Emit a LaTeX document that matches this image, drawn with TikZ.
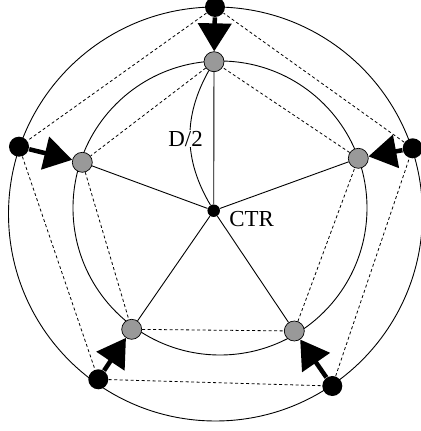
\documentclass[tikz,border=0pt]{standalone}
\usepackage{fontspec}
\setmainfont{Liberation Serif}
\usetikzlibrary{arrows.meta}
\definecolor{dotgrey}{gray}{0.6}

\begin{document}
\begin{tikzpicture}[x=1bp, y=1bp, line width=0.9bp,
	dot/.style={circle, fill=black, inner sep=0pt, minimum size=20bp},
	gdot/.style={circle, draw=black, line width=0.7bp, fill=dotgrey, inner sep=0pt, minimum size=20bp},
	push/.style={line width=4.5bp, -{Triangle[length=28bp,width=33bp]}},
	chord/.style={dash pattern=on 3bp off 2.5bp, line width=0.8bp},
	lbl/.style={font=\fontsize{23}{27}\selectfont, fill=white, inner sep=1bp, anchor=base west}]
\useasboundingbox (0,0) rectangle (421,431);
\draw (215.5,217) circle (207);
\draw (220,223) circle (147);
\node[dot, minimum size=12.5bp] (ctr) at (213.7,220.3) {};
\node[gdot] (g1) at (214,369.3) {};
\node[gdot] (g2) at (82.3,268.7) {};
\node[gdot] (g3) at (358.3,272.7) {};
\node[gdot] (g4) at (131.7,101.7) {};
\node[gdot] (g5) at (294.3,100) {};
\node[dot] (b1) at (215,424) {};
\node[dot] (b2) at (19,284.3) {};
\node[dot] (b3) at (412.7,282.7) {};
\node[dot] (b4) at (98.3,51.7) {};
\node[dot] (b5) at (332.3,45) {};
\foreach \i/\j in {1/2,2/4,4/5,5/3,3/1} {
	\draw[chord] (g\i) -- (g\j);
	\draw[chord] (b\i) -- (b\j);
}
\foreach \i in {1,...,5} {
	\draw (ctr) -- (g\i);
	\draw[push] (b\i) -- (g\i);
}
\draw (g1) to[bend right=30] (ctr);
\node[lbl] (half) at (167,285) {D/2};
\node[lbl] (ctrtext) at (228,204.3) {CTR};
\end{tikzpicture}
\end{document}
